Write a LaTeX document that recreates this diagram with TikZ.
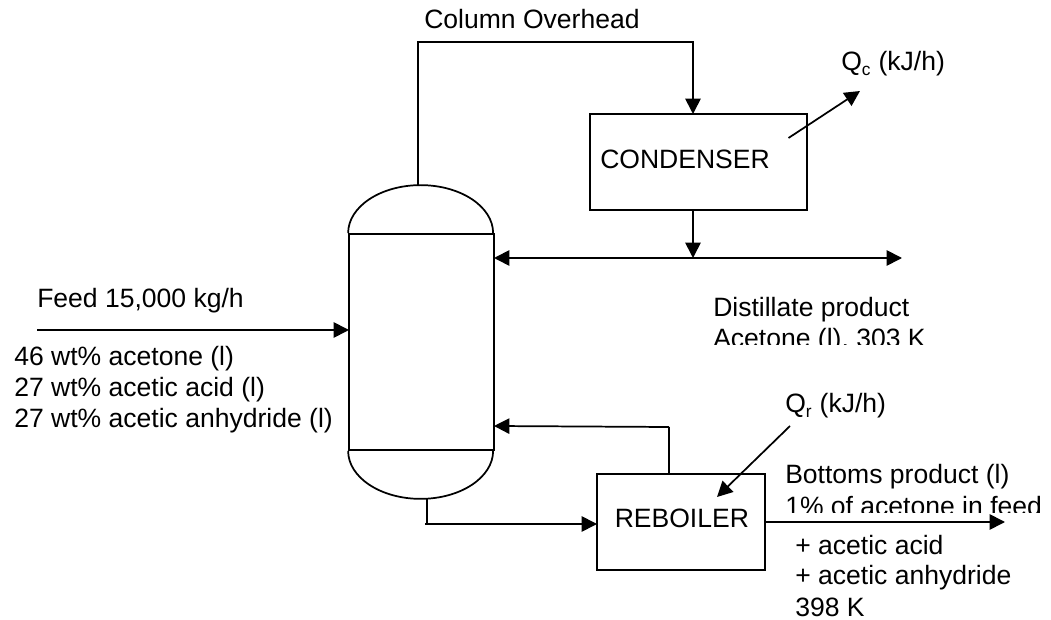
\documentclass[tikz,border=0pt]{standalone}
\usepackage{fontspec}
\setmainfont{Liberation Sans}
\usetikzlibrary{arrows.meta}
\tikzset{
  x=0.75pt,y=-0.75pt,
  line/.style={draw=black,line width=1.3pt},
  flow/.style={line,-{Triangle[length=11.5pt,width=11.5pt]}},
  both/.style={line,{Triangle[length=11.5pt,width=11.5pt]}-{Triangle[length=11.5pt,width=11.5pt]}},
  unit/.style={line,rectangle,inner sep=0pt},
  txt/.style={anchor=base west,inner sep=0pt,font=\fontsize{19.9}{23}\selectfont},
}
\newcommand{\subtxt}[1]{\textsubscript{\fontsize{13}{15}\selectfont #1}}
\begin{document}
\begin{tikzpicture}
\useasboundingbox (0,0) rectangle (1051,620);
% column
\node[line,rectangle,inner sep=0pt,minimum width=108.75pt,minimum height=162pt] (col) at (421.5,342) {};
\draw[line] (col.north west) arc[start angle=180,end angle=0,x radius=54.375pt,y radius=36pt];
\draw[line] (col.south west) arc[start angle=180,end angle=360,x radius=54.375pt,y radius=36pt];
% units
\node[unit,minimum width=162.75pt,minimum height=72pt] (cond) at (698.5,162) {};
\node[unit,minimum width=126pt,minimum height=72pt] (reb) at (681,522) {};
% coordinates
\coordinate (ovA) at (418,186);
\coordinate (ovB) at (418,42);
\coordinate (ovC) at (693,42);
\coordinate (ovD) at (693,114);
\coordinate (dA) at (693,210);
\coordinate (dB) at (693,258);
\coordinate (dL) at (494,258);
\coordinate (dR) at (902,258);
\coordinate (qcA) at (788.5,138);
\coordinate (qcB) at (860,91);
\coordinate (fA) at (37,330);
\coordinate (fB) at (349,330);
\coordinate (rA) at (669,474);
\coordinate (rB) at (669,427);
\coordinate (rC) at (494,426);
\coordinate (bA) at (427,498);
\coordinate (bB) at (427,524);
\coordinate (bC) at (425,524);
\coordinate (bD) at (597,524);
\coordinate (oA) at (765,522);
\coordinate (oB) at (1005,522);
\coordinate (qrA) at (790,426);
\coordinate (qrB) at (717,497);
% connectors
\draw[flow] (ovA) -- (ovB) -- (ovC) -- (ovD);
\draw[flow] (dA) -- (dB);
\draw[both] (dL) -- (dR);
\draw[flow] (qcA) -- (qcB);
\draw[flow] (fA) -- (fB);
\draw[line] (rA) -- (rB);
\draw[flow] (rB) -- (rC);
\draw[line] (bA) -- (bB);
\draw[flow] (bC) -- (bD);
\draw[flow] (oA) -- (oB);
\draw[flow] (qrA) -- (qrB);
% labels
\node[txt] (t1) at (424,29) {Column Overhead};
\node[txt] (t2) at (841,71) {Q\subtxt{c} (kJ/h)};
\node[txt] (t3) at (600,169) {CONDENSER};
\node[txt] (t4) at (713,317) {Distillate product};
\begin{scope}
\clip (700,322) rectangle (1000,345);
\node[txt] (t5) at (713,348) {Acetone (l), 303 K};
\end{scope}
\node[txt] (t6) at (37,308) {Feed 15,000 kg/h};
\node[txt] (t7) at (14,366) {46 wt\% acetone (l)};
\node[txt] (t8) at (14,397) {27 wt\% acetic acid (l)};
\node[txt] (t9) at (14,428) {27 wt\% acetic anhydride (l)};
\node[txt] (t10) at (785,413) {Q\subtxt{r} (kJ/h)};
\node[txt] (t11) at (785,484) {Bottoms product (l)};
\begin{scope}
\clip (770,490) rectangle (1051,513);
\node[txt] (t12) at (785,516) {1\% of acetone in feed};
\end{scope}
\node[txt] (t13) at (614.5,528) {REBOILER};
\node[txt] (t14) at (795,555) {+ acetic acid};
\node[txt] (t15) at (795,585) {+ acetic anhydride};
\node[txt] (t16) at (795,616) {398 K};
\end{tikzpicture}
\end{document}
